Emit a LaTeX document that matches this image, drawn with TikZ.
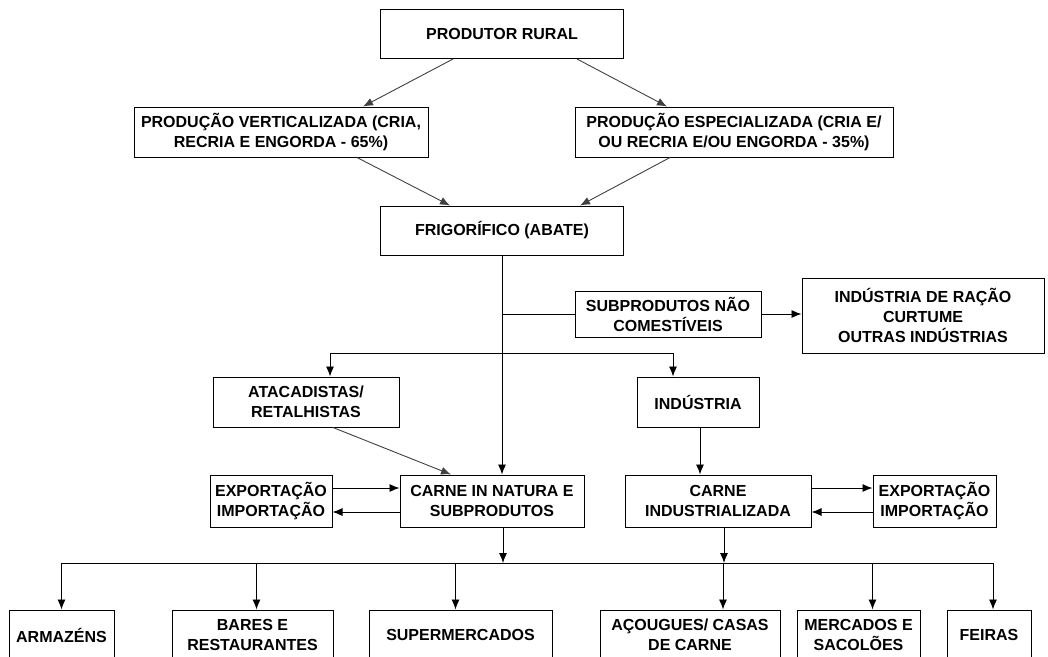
\documentclass[tikz,border=0pt]{standalone}
\usepackage{fontspec}
\setmainfont{Liberation Sans}
\usetikzlibrary{arrows.meta}

\begin{document}
\begin{tikzpicture}[x=1pt, y=-1pt, >={Latex[length=10pt,width=8pt]},
    box/.style={rectangle, draw, line width=1pt, inner sep=0pt, align=center,
      font=\fontsize{16}{20}\selectfont\bfseries},
    line/.style={line width=0.9pt}]
    \useasboundingbox (0,0) rectangle (1048,656);
    \clip (0,0) rectangle (1048,656);

    % Nodes
    \node[box, minimum width=243, minimum height=49](prod) at (502,34) {PRODUTOR RURAL};
    \node[box, minimum width=294, minimum height=50](vert) at (281,132)
    {PRODUÇÃO VERTICALIZADA (CRIA,\\ RECRIA E ENGORDA - 65\%)};
    \node[box, minimum width=318, minimum height=50](espec) at (734,132)
    {PRODUÇÃO ESPECIALIZADA (CRIA E/\\ OU RECRIA E/OU ENGORDA - 35\%)};
    \node[box, minimum width=243, minimum height=49](frig) at (502,230.5) {FRIGORÍFICO (ABATE)};

    \node[box, minimum width=186, minimum height=46](subp) at (668,314) {SUBPRODUTOS NÃO\\ COMESTÍVEIS};
    \node[box, minimum width=242, minimum height=75](racao) at (923,315.5)
    {INDÚSTRIA DE RAÇÃO\\ CURTUME\\ OUTRAS INDÚSTRIAS};

    \node[box, minimum width=186, minimum height=50](atac) at (306,402) {ATACADISTAS/\\ RETALHISTAS};
    \node[box, minimum width=122, minimum height=50](indu) at (698,402) {INDÚSTRIA};

    \node[box, minimum width=122, minimum height=52](expL) at (271,501) {EXPORTAÇÃO\\ IMPORTAÇÃO};
    \node[box, minimum width=184, minimum height=52](natura) at (492,501) {CARNE IN NATURA E\\ SUBPRODUTOS};
    \node[box, minimum width=186, minimum height=52](indl) at (718,501) {CARNE\\ INDUSTRIALIZADA};
    \node[box, minimum width=123, minimum height=52](expR) at (934.5,501) {EXPORTAÇÃO\\ IMPORTAÇÃO};

    \node[box, minimum width=105, minimum height=50](arm) at (61.5,635) {ARMAZÉNS};
    \node[box, minimum width=161, minimum height=50](bares) at (252.5,635) {BARES E\\ RESTAURANTES};
    \node[box, minimum width=183, minimum height=50](super) at (460.5,635) {SUPERMERCADOS};
    \node[box, minimum width=180, minimum height=50](acou) at (690,635) {AÇOUGUES/ CASAS\\ DE CARNE};
    \node[box, minimum width=123, minimum height=50](merc) at (858.5,635) {MERCADOS E\\ SACOLÕES};
    \node[box, minimum width=84, minimum height=50](feiras) at (989,635) {FEIRAS};

    \coordinate (split) at (502,353);
    \coordinate (bus) at (62,563);

    % Arrows
    \draw[->, line, black!75] ([xshift=-49]prod.south) -- ([xshift=82]vert.north);
    \draw[->, line, black!75] ([xshift=75]prod.south) -- ([xshift=-67]espec.north);
    \draw[->, line, black!75] ([xshift=76]vert.south) -- ([xshift=-52]frig.north);
    \draw[->, line, black!75] ([xshift=-64]espec.south) -- ([xshift=78]frig.north);

    \draw[->, line] (frig.south) -- (frig.south |- natura.north);
    \draw[line] (frig.south |- subp.west) -- (subp.west);
    \draw[->, line] (subp.east) -- (subp.east -| racao.west);
    \draw[->, line] (split) -| ([xshift=24]atac.north);
    \draw[->, line] (split) -| ([xshift=-25]indu.north);

    \draw[->, line, black!75] ([xshift=27]atac.south) -- ([xshift=-41]natura.north);
    \draw[->, line] ([xshift=2]indu.south) -- ([xshift=2]indu.south |- indl.north);

    \draw[->, line] ([yshift=13]expL.east) -- ([yshift=13]natura.west);
    \draw[->, line] ([yshift=-11]natura.west) -- ([yshift=-11]expL.east);
    \draw[->, line] ([yshift=13]indl.east) -- ([yshift=13]expR.west);
    \draw[->, line] ([yshift=-11]expR.west) -- ([yshift=-11]indl.east);

    \draw[->, line] ([xshift=11]natura.south) -- ([xshift=11]natura.south |- bus);
    \draw[->, line] ([xshift=6]indl.south) -- ([xshift=6]indl.south |- bus);

    \draw[line] (bus) -- ([xshift=4]feiras.north |- bus);
    \foreach \b/\dx in {arm/0, bares/4, super/-5, acou/33, merc/14, feiras/4}
      \draw[->, line] ([xshift=\dx]\b.north |- bus) -- ([xshift=\dx]\b.north);

\end{tikzpicture}
\end{document}
